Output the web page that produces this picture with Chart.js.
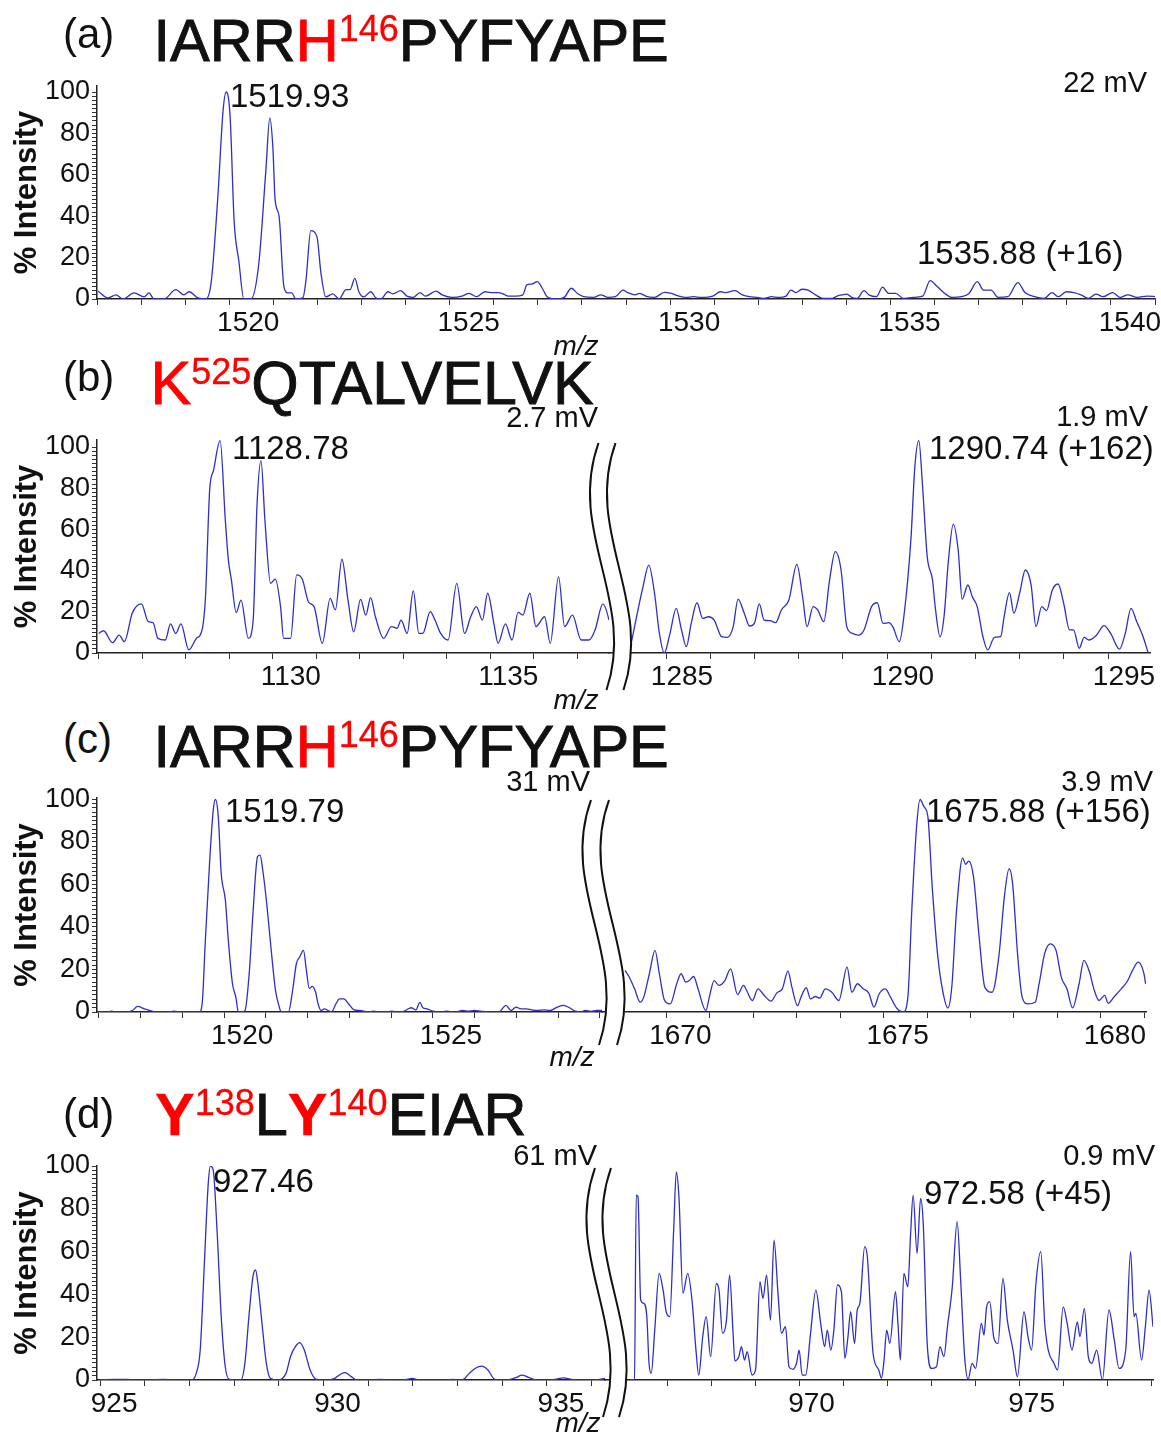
<!DOCTYPE html>
<html><head><meta charset="utf-8">
<script src="https://cdn.jsdelivr.net/npm/chart.js@4.4.0/dist/chart.umd.min.js"></script>
<style>
html,body{margin:0;padding:0;background:#fff;}
#page{position:relative;width:1161px;height:1437px;overflow:hidden;font-family:'Liberation Sans',Arial,sans-serif;color:#111;background:#fff;}
canvas{position:absolute;}
.t{position:absolute;white-space:nowrap;line-height:1;}
.ttl{-webkit-text-stroke:0.9px currentColor;}
.red{color:#f00;}
.sup{font-size:36px;position:relative;top:-20px;-webkit-text-stroke:0.3px currentColor;}
.bold{font-weight:bold;-webkit-text-stroke:0.3px currentColor;}
</style></head><body><div id="page"></div>
<script>
// ---------------- DATA (m/z, % intensity) ----------------
const spectrumA = [[1517.02,3.9],[1517.25,0.5],[1517.43,2],[1517.59,0],[1517.84,3],[1518.07,1],[1518.18,3],[1518.29,0],[1518.52,0],[1518.79,4.5],[1518.97,2],[1519.09,3.5],[1519.29,0.5],[1519.47,0],[1519.59,8],[1519.74,49],[1519.86,91],[1519.93,100],[1520.02,88],[1520.11,38],[1520.22,18],[1520.33,0],[1520.49,0],[1520.67,17],[1520.83,62],[1520.92,87.5],[1520.99,73],[1521.04,48],[1521.13,40],[1521.24,6],[1521.33,3],[1521.42,3],[1521.51,0],[1521.67,0.5],[1521.74,9],[1521.85,33],[1521.99,30],[1522.08,12.5],[1522.19,1],[1522.35,2.5],[1522.49,0],[1522.65,4.5],[1522.74,4.5],[1522.85,10],[1522.94,3.5],[1523.05,1],[1523.21,3.5],[1523.33,0.5],[1523.44,0],[1523.60,3.5],[1523.71,2.5],
[1523.89,4.0],[1524.03,1.4],[1524.17,0.8],[1524.33,3.1],[1524.45,1.4],[1524.69,3.8],[1524.83,2.0],[1525.05,0.8],[1525.28,1.4],[1525.44,2.7],[1525.61,1.1],[1525.80,3.5],[1525.94,3.1],[1526.11,3.1],[1526.22,2.4],[1526.33,1.4],[1526.49,1.4],[1526.66,2.0],[1526.75,6.8],[1526.86,7.2],[1526.99,8.4],[1527.10,5.2],[1527.21,1.1],[1527.41,0],[1527.60,0.8],[1527.76,5.2],[1527.90,2.7],[1528.04,1.1],[1528.26,0.8],[1528.43,2.0],[1528.59,0.8],[1528.76,1.1],[1528.93,4.3],[1529.04,3.1],[1529.20,2.0],[1529.31,2.7],[1529.48,1.1],[1529.65,0.8],[1529.87,3.2],[1530.03,2.7],[1530.20,1.4],[1530.36,0.8],[1530.53,1.1],[1530.70,0.8],[1530.97,1.4],[1531.14,3.5],[1531.25,3.1],[1531.47,4.0],[1531.64,2.0],[1531.80,1.1],[1531.97,0.8],[1532.13,0.3],[1532.30,1.1],[1532.47,0.8],[1532.63,1.4],[1532.74,4.3],[1532.85,3.1],[1532.99,4.7],[1533.13,4.3],[1533.30,2.0],[1533.46,0.3],[1533.68,0.3],[1533.79,1.4],[1533.90,2.0],[1534.01,2.4],[1534.12,0.8],[1534.24,0.3],[1534.40,4.0],[1534.51,2.0],[1534.68,1.1],[1534.82,5.7],[1534.96,2.7],[1535.12,2.7],[1535.29,0.3],[1535.51,0.8],[1535.73,1.4],[1535.90,8.9],[1536.06,6.0],[1536.23,2.7],[1536.39,0.8],[1536.61,1.1],[1536.78,2.7],[1536.97,8.4],[1537.11,4.3],[1537.28,4.3],[1537.44,0.8],[1537.66,1.1],[1537.89,7.9],[1538.05,3.1],[1538.27,1.1],[1538.49,0.3],[1538.66,3.1],[1538.81,1.1],[1538.99,3.5],[1539.16,3.1],[1539.32,2.0],[1539.49,0.3],[1539.66,2.4],[1539.82,1.1],[1540.04,3.1],[1540.21,0.8],[1540.38,2.0],[1540.60,0.8],[1540.82,1.4],[1541.04,1.1]];

const spectrumBLeft = [[1126.00,9.5],[1126.11,10.8],[1126.32,5.0],[1126.47,8.7],[1126.59,5.5],[1126.77,19.3],[1126.98,23.8],[1127.14,15.2],[1127.25,14.7],[1127.36,7.1],[1127.53,6.3],[1127.65,14.1],[1127.77,9.5],[1127.89,14.1],[1128.07,1.5],[1128.27,7.6],[1128.32,8.2],[1128.45,25.7],[1128.55,79.1],[1128.64,88.8],[1128.79,103.1],[1128.91,64.6],[1128.98,45.1],[1129.05,35.4],[1129.16,19.6],[1129.27,25.7],[1129.44,7.1],[1129.55,16.0],[1129.64,72.6],[1129.73,93.4],[1129.82,64.6],[1129.95,33.8],[1130.06,35.9],[1130.18,22.5],[1130.25,7.1],[1130.41,7.1],[1130.55,37.9],[1130.68,35.8],[1130.82,24.9],[1130.95,22.5],[1131.14,4.7],[1131.32,26.5],[1131.44,20.9],[1131.59,45.5],[1131.73,25.7],[1131.86,10.3],[1132.02,26.0],[1132.14,18.4],[1132.25,26.9],[1132.36,17.6],[1132.55,7.1],[1132.73,12.8],[1132.86,12.0],[1132.95,16.0],[1133.09,9.5],[1133.23,30.2],[1133.36,9.5],[1133.45,9.5],[1133.62,20.1],[1133.73,16.0],[1133.86,9.5],[1134.03,6.3],[1134.23,33.8],[1134.41,9.5],[1134.55,17.6],[1134.68,22.5],[1134.82,16.0],[1134.94,29.0],[1135.09,13.6],[1135.18,4.7],[1135.35,14.1],[1135.50,6.3],[1135.64,19.7],[1135.75,18.4],[1135.91,29.0],[1136.05,12.8],[1136.25,17.6],[1136.38,4.7],[1136.57,37.0],[1136.71,12.8],[1136.89,18.4],[1137.09,6.3],[1137.27,6.3],[1137.41,11.2],[1137.59,23.8],[1137.73,16.0],[1137.80,7.9]];

const spectrumBRight = [[1284.22,5.5],[1284.35,19.3],[1284.48,32.2],[1284.61,42.7],[1284.74,29.0],[1284.85,9.5],[1284.96,0],[1285.09,9.5],[1285.23,21.7],[1285.35,11.2],[1285.46,3.1],[1285.57,14.4],[1285.70,24.4],[1285.83,16.8],[1285.96,17.6],[1286.09,16.0],[1286.26,7.9],[1286.39,7.6],[1286.52,12.8],[1286.63,26.2],[1286.77,19.3],[1286.89,13.1],[1287.00,14.4],[1287.11,23.8],[1287.22,16.0],[1287.35,15.7],[1287.48,14.7],[1287.61,20.9],[1287.78,25.7],[1287.96,43.0],[1288.09,27.3],[1288.19,12.8],[1288.33,22.5],[1288.43,20.9],[1288.57,15.2],[1288.70,35.4],[1288.83,49.2],[1288.96,40.3],[1289.09,12.8],[1289.22,9.5],[1289.35,8.7],[1289.48,11.2],[1289.65,22.5],[1289.78,24.4],[1289.91,14.4],[1290.04,14.7],[1290.13,12.8],[1290.28,5.5],[1290.39,19.3],[1290.54,54.9],[1290.63,90.5],[1290.72,103.1],[1290.80,82.4],[1290.91,46.8],[1291.03,35.4],[1291.09,22.5],[1291.20,7.9],[1291.29,17.6],[1291.39,45.1],[1291.50,62.6],[1291.61,50.0],[1291.70,26.1],[1291.83,33.0],[1291.93,27.3],[1292.04,22.5],[1292.17,7.9],[1292.28,1.5],[1292.43,7.6],[1292.57,7.9],[1292.65,17.6],[1292.77,29.3],[1292.87,19.3],[1293.00,29.0],[1293.13,40.3],[1293.26,33.0],[1293.37,12.8],[1293.50,22.5],[1293.61,20.6],[1293.74,30.6],[1293.87,33.5],[1294.00,23.8],[1294.13,11.2],[1294.22,11.2],[1294.35,2.3],[1294.46,7.6],[1294.57,6.3],[1294.74,8.7],[1294.91,13.3],[1295.06,9.5],[1295.26,1.9],[1295.39,9.5],[1295.52,21.7],[1295.65,15.2],[1295.78,8.7],[1295.91,0]];

const spectrumCLeft = [[1516.90,0.4],[1517.05,0],[1517.19,0],[1517.30,0.4],[1517.42,0],[1517.66,0],[1517.80,0.7],[1517.93,2.6],[1518.09,1.5],[1518.23,0.7],[1518.37,0],[1518.56,0],[1518.66,0],[1518.80,0.4],[1518.94,0],[1519.18,0],[1519.41,0],[1519.48,5.4],[1519.55,33.7],[1519.65,69.9],[1519.74,95.1],[1519.79,100],[1519.86,91.9],[1519.93,65.2],[1520.03,52.6],[1520.10,33.7],[1520.20,13.3],[1520.28,7.0],[1520.34,0],[1520.43,0],[1520.50,0.7],[1520.60,18.0],[1520.69,46.3],[1520.80,73.1],[1520.86,73.8],[1520.93,66.0],[1521.02,51.0],[1521.12,30.6],[1521.23,10.2],[1521.31,3.1],[1521.37,0],[1521.54,0],[1521.64,10.2],[1521.73,22.7],[1521.81,25.9],[1521.90,29.0],[1521.97,19.6],[1522.04,11.0],[1522.11,12.1],[1522.19,9.4],[1522.25,3.9],[1522.32,0.7],[1522.40,1.5],[1522.49,0.7],[1522.57,0],[1522.68,3.9],[1522.76,6.2],[1522.87,6.2],[1522.98,3.9],[1523.11,1.0],[1523.25,0.7],[1523.44,0],[1523.58,0.4],[1523.72,0],[1523.86,0],[1524.01,0.4],[1524.15,0],[1524.24,0],[1524.34,0.7],[1524.48,2.0],[1524.59,1.0],[1524.69,4.5],[1524.76,2.0],[1524.86,1.5],[1525.00,0.4],[1525.14,0],[1525.33,0.4],[1525.52,0],[1525.71,0.7],[1525.85,0.4],[1525.99,0.7],[1526.14,0.4],[1526.37,0],[1526.58,0],[1526.75,3.1],[1526.87,0.7],[1526.99,2.3],[1527.11,1.5],[1527.23,1.5],[1527.37,1.0],[1527.51,0.7],[1527.65,1.0],[1527.81,0.7],[1527.98,2.3],[1528.13,3.1],[1528.27,2.0],[1528.41,0.4],[1528.55,0],[1528.64,0.7],[1528.79,0.3],[1528.93,0.7],[1529.07,0.7]];

const spectrumCRight = [[1669.05,19.6],[1669.14,16.7],[1669.27,10.9],[1669.40,4.6],[1669.48,7.0],[1669.61,18.0],[1669.74,29.0],[1669.84,18.0],[1669.96,5.4],[1670.09,3.8],[1670.24,13.3],[1670.34,18.0],[1670.45,14.1],[1670.53,14.8],[1670.63,16.7],[1670.73,10.9],[1670.91,0.7],[1670.99,7.0],[1671.10,14.8],[1671.21,12.5],[1671.34,14.5],[1671.48,20.3],[1671.64,8.2],[1671.78,12.5],[1671.85,10.1],[1671.98,5.4],[1672.11,10.9],[1672.24,8.1],[1672.41,5.1],[1672.54,8.9],[1672.67,10.9],[1672.80,19.2],[1672.89,11.7],[1673.02,3.0],[1673.10,7.0],[1673.22,11.4],[1673.32,6.2],[1673.43,7.3],[1673.53,6.5],[1673.66,10.9],[1673.81,9.3],[1673.97,5.4],[1674.16,21.1],[1674.27,9.3],[1674.40,13.3],[1674.53,10.9],[1674.66,8.9],[1674.78,2.3],[1674.90,8.6],[1675.04,10.9],[1675.16,7.0],[1675.30,1.9],[1675.45,0],[1675.56,7.0],[1675.65,47.9],[1675.76,87.2],[1675.84,100],[1675.93,96.6],[1676.02,91.9],[1676.12,58.9],[1676.25,25.8],[1676.36,10.1],[1676.48,1.9],[1676.57,11.7],[1676.68,47.9],[1676.82,72.5],[1676.89,69.5],[1676.96,71.0],[1677.07,63.6],[1677.20,35.3],[1677.33,11.7],[1677.50,9.3],[1677.66,27.4],[1677.78,54.2],[1677.89,67.5],[1677.97,60.4],[1678.09,25.8],[1678.19,7.0],[1678.32,3.8],[1678.49,4.6],[1678.58,13.3],[1678.71,27.7],[1678.84,32.1],[1678.97,29.0],[1679.09,16.4],[1679.22,10.9],[1679.35,1.9],[1679.50,13.3],[1679.61,24.3],[1679.74,18.8],[1679.84,10.9],[1679.96,5.4],[1680.09,7.8],[1680.17,4.1],[1680.30,7.0],[1680.47,10.9],[1680.60,14.1],[1680.73,19.6],[1680.86,23.5],[1680.99,18.3],[1681.03,13.3]];

const spectrumDLeft = [[925.00,0],[925.32,0.3],[925.59,0.3],[925.78,0],[926.05,0],[926.42,0.3],[926.69,0],[927.05,0],[927.15,3.1],[927.24,14.0],[927.33,53.0],[927.42,91.9],[927.47,100],[927.53,98.2],[927.62,68.6],[927.71,29.6],[927.80,6.3],[927.89,0.3],[928.15,0],[928.24,7.8],[928.33,29.6],[928.42,48.3],[928.48,51.4],[928.53,45.2],[928.63,25.0],[928.72,7.8],[928.81,0.8],[928.97,0],[929.16,3.1],[929.26,10.9],[929.38,15.9],[929.47,17.5],[929.57,14.0],[929.70,4.7],[929.84,0.3],[930.07,0],[930.25,0.8],[930.39,2.8],[930.48,3.4],[930.62,1.6],[930.75,0],[930.98,0],[931.26,0.3],[931.53,0],[931.80,0],[931.99,0.8],[932.12,0],[932.26,0],[932.44,0],[932.72,0],[932.90,0.3],[932.99,0],[933.13,0.3],[933.26,3.1],[933.40,5.5],[933.54,6.5],[933.68,4.7],[933.83,0.3],[934.00,0],[934.18,0.3],[934.32,1.2],[934.44,2.3],[934.59,1.2],[934.77,0],[935.00,0],[935.18,0.3],[935.37,1.0],[935.55,0.3],[935.73,0],[936.00,0],[936.28,0.6],[936.37,1.2]];

const spectrumDRight = [[966.16,0],[966.25,0.3],[966.29,86.4],[966.33,85.6],[966.39,37.4],[966.46,35.8],[966.53,29.6],[966.58,7.8],[966.63,3.1],[966.71,23.3],[966.81,49.8],[966.90,42.0],[966.97,31.9],[967.05,29.6],[967.14,70.1],[967.20,97.3],[967.26,85.6],[967.35,40.5],[967.46,49.8],[967.56,36.6],[967.64,15.6],[967.71,2.3],[967.80,20.2],[967.88,29.6],[967.98,10.9],[968.11,45.1],[968.17,42.0],[968.25,21.8],[968.34,28.0],[968.41,49.0],[968.49,21.8],[968.53,9.0],[968.62,10.9],[968.68,15.6],[968.75,9.3],[968.81,13.2],[968.92,2.3],[969.00,4.7],[969.10,45.9],[969.17,38.1],[969.25,49.0],[969.34,28.0],[969.42,65.4],[969.51,40.5],[969.59,21.8],[969.68,24.9],[969.76,6.2],[969.85,5.0],[969.93,7.8],[969.99,14.0],[970.06,2.3],[970.14,2.3],[970.25,21.8],[970.37,42.0],[970.48,26.5],[970.57,15.6],[970.63,23.3],[970.71,14.0],[970.78,23.3],[970.86,44.4],[970.95,41.3],[971.03,10.1],[971.10,20.2],[971.16,31.9],[971.25,17.1],[971.31,32.7],[971.37,35.8],[971.48,62.3],[971.54,57.6],[971.67,12.5],[971.80,4.7],[971.86,0.8],[971.92,9.3],[971.98,23.3],[972.05,17.1],[972.18,41.3],[972.24,24.9],[972.29,9.3],[972.37,49.8],[972.46,43.6],[972.52,67.0],[972.58,86.4],[972.67,59.2],[972.75,84.9],[972.81,73.2],[972.90,17.1],[973.00,5.4],[973.11,6.2],[973.19,15.6],[973.28,10.9],[973.36,24.9],[973.47,43.6],[973.58,74.0],[973.66,46.7],[973.75,10.9],[973.83,0.3],[973.92,7.8],[974.00,5.4],[974.13,26.5],[974.19,21.0],[974.25,34.2],[974.32,36.6],[974.41,20.2],[974.51,17.1],[974.62,47.5],[974.72,28.0],[974.85,14.0],[974.95,1.5],[975.10,31.9],[975.19,20.2],[975.27,14.0],[975.37,45.1],[975.48,60.0],[975.57,26.5],[975.65,14.0],[975.78,7.8],[975.86,4.7],[975.99,34.2],[976.08,26.5],[976.19,14.0],[976.31,27.2],[976.37,20.2],[976.47,33.5],[976.56,10.9],[976.64,7.8],[976.75,14.0],[976.88,0],[977.03,32.7],[977.15,18.7],[977.26,5.4],[977.41,14.0],[977.52,60.0],[977.60,29.6],[977.64,31.1],[977.77,9.3],[977.86,25.7],[977.94,42.0],[978.03,24.9]];

// labelled x ticks (m/z) and y ticks (% intensity)
const xMajorA = [1520,1525,1530,1535,1540];
const xMajorBLeft = [1130,1135];
const xMajorBRight = [1285,1290,1295];
const xMajorCLeft = [1520,1525];
const xMajorCRight = [1670,1675,1680];
const xMajorDLeft = [925,930,935];
const xMajorDRight = [970,975];
const yMajor = [0,20,40,60,80,100];

// ---------------- RENDERING ----------------
Chart.defaults.font.family = "'Liberation Sans', Arial, sans-serif";
Chart.defaults.color = '#111';
const page = document.getElementById('page');
const LINE = '#2f2fc6';

function stepTicks(min, max, step) {
  const out = [];
  for (let v = Math.ceil(min / step) * step; v <= max + 1e-9; v += step) out.push({value: Math.round(v * 1000) / 1000});
  return out;
}

const breakPlugin = {
  id: 'brk',
  afterDraw(chart, args, o) {
    if (!o || !o.on) return;
    const ctx = chart.ctx;
    const cx = chart.chartArea.left;
    const y0 = o.top - o.cTop, y1 = o.bottom - o.cTop, h = y1 - y0;
    const half = o.gap / 2;
    const pts = bx => [bx - 2, y0, bx - 34, y0 + h * 0.36, bx + 36, y0 + h * 0.64, bx + 6, y1];
    const L = pts(cx - half), R = pts(cx + half);
    ctx.save();
    ctx.beginPath();
    ctx.moveTo(L[0], L[1]);
    ctx.bezierCurveTo(L[2], L[3], L[4], L[5], L[6], L[7]);
    ctx.lineTo(R[6], R[7]);
    ctx.bezierCurveTo(R[4], R[5], R[2], R[3], R[0], R[1]);
    ctx.closePath();
    ctx.fillStyle = '#fff';
    ctx.fill();
    ctx.strokeStyle = '#111';
    ctx.lineWidth = 2;
    [L, R].forEach(P => {
      ctx.beginPath();
      ctx.moveTo(P[0], P[1]);
      ctx.bezierCurveTo(P[2], P[3], P[4], P[5], P[6], P[7]);
      ctx.stroke();
    });
    ctx.restore();
  }
};

function makeSegment(c) {
  const padT = 30, padR = 24, xAxisH = 60;
  const padL = c.showY ? 0 : 40;
  const cLeft = c.showY ? 0 : c.areaL - padL;
  const cTop = c.areaT - padT;
  const w = c.areaR + padR - cLeft;
  const h = padT + (c.areaB - c.areaT) + xAxisH;
  const canvas = document.createElement('canvas');
  canvas.width = w; canvas.height = h;
  canvas.style.left = cLeft + 'px'; canvas.style.top = cTop + 'px';
  canvas.style.width = w + 'px'; canvas.style.height = h + 'px';
  page.appendChild(canvas);
  new Chart(canvas, {
    type: 'line',
    data: {datasets: [{
      data: c.data.map(p => ({x: p[0], y: p[1]})),
      borderColor: LINE, borderWidth: 1.3, pointRadius: 0,
      cubicInterpolationMode: 'monotone', fill: false
    }]},
    options: {
      responsive: false, maintainAspectRatio: false, animation: false, devicePixelRatio: 1,
      layout: {padding: {top: padT, right: padR, left: padL, bottom: 0}},
      plugins: {
        legend: {display: false}, tooltip: {enabled: false},
        brk: c.brk ? {on: true, top: c.brk.top, bottom: c.brk.bottom, gap: c.brk.gap, cTop: cTop} : {on: false}
      },
      scales: {
        x: {
          type: 'linear', min: c.xMin, max: c.xMax,
          afterBuildTicks: s => { s.ticks = stepTicks(c.xMin, c.xMax, 1); },
          afterFit: s => { s.height = xAxisH; },
          grid: {drawOnChartArea: false, drawTicks: true, tickLength: 6, tickColor: '#333', tickWidth: 1},
          border: {display: true, color: '#222', width: 1.5},
          ticks: {autoSkip: false, maxRotation: 0, minRotation: 0, labelOffset: c.labelOffset, padding: 1,
                  font: {size: 28}, color: '#111',
                  callback: v => c.majors.includes(v) ? String(v) : ''}
        },
        y: {
          type: 'linear', min: 0, max: c.yMax, display: c.showY,
          afterBuildTicks: s => { s.ticks = stepTicks(0, 100, 2); },
          afterFit: s => { if (c.showY) s.width = c.areaL; },
          grid: {drawOnChartArea: false, drawTicks: true, tickLength: 5, tickColor: '#333', tickWidth: 1},
          border: {display: true, color: '#222', width: 1.5},
          ticks: {autoSkip: false, padding: 2, font: {size: 27}, color: '#111',
                  callback: v => yMajor.includes(v) ? String(v) : ''},
          title: {display: true, text: '% Intensity', color: '#111',
                  font: {size: 31, weight: 'bold'}, padding: {top: 9, bottom: 0}}
        }
      }
    },
    plugins: [breakPlugin]
  });
}

// panel (a)
makeSegment({data: spectrumA, xMin: 1517, xMax: 1541, yMax: 102.9, areaL: 97, areaR: 1155, areaT: 86, areaB: 299, showY: true, labelOffset: 19, majors: xMajorA});
// panel (b)
makeSegment({data: spectrumBLeft, xMin: 1125.96, xMax: 1137.73, yMax: 103.4, areaL: 97, areaR: 609, areaT: 440, areaB: 653, showY: true, labelOffset: 18, majors: xMajorBLeft});
makeSegment({data: spectrumBRight, xMin: 1283.71, xMax: 1295.95, yMax: 103.4, areaL: 609, areaR: 1150, areaT: 440, areaB: 653, showY: false, labelOffset: 16, majors: xMajorBRight, brk: {top: 443, bottom: 690, gap: 17}});
// panel (c)
makeSegment({data: spectrumCLeft, xMin: 1516.955, xMax: 1529.05, yMax: 100.7, areaL: 97, areaR: 602, areaT: 798, areaB: 1012, showY: true, labelOffset: 18, majors: xMajorCLeft});
makeSegment({data: spectrumCRight, xMin: 1668.52, xMax: 1681.04, yMax: 100.7, areaL: 602, areaR: 1146, areaT: 798, areaB: 1012, showY: false, labelOffset: 14, majors: xMajorCRight, brk: {top: 800, bottom: 1045, gap: 18}});
// panel (d)
makeSegment({data: spectrumDLeft, xMin: 924.93, xMax: 936.30, yMax: 100, areaL: 97, areaR: 605, areaT: 1166, areaB: 1380, showY: true, labelOffset: 14, majors: xMajorDLeft});
makeSegment({data: spectrumDRight, xMin: 965.58, xMax: 978.03, yMax: 100, areaL: 605, areaR: 1153, areaT: 1166, areaB: 1380, showY: false, labelOffset: 12, majors: xMajorDRight, brk: {top: 1168, bottom: 1417, gap: 16}});

// ---------------- TEXT ----------------
function addText(html, x, cy, size, align, extra) {
  const d = document.createElement('div');
  d.className = 't';
  d.innerHTML = html;
  d.style.fontSize = size + 'px';
  d.style.top = (cy - 0.49 * size) + 'px';
  if (align === 'right') d.style.right = (1161 - x) + 'px';
  else if (align === 'center') { d.style.left = x + 'px'; d.style.transform = 'translateX(-50%)'; }
  else d.style.left = x + 'px';
  if (extra) Object.assign(d.style, extra);
  page.appendChild(d);
}
function addTitle(html, x, baseline, size) {
  const d = document.createElement('div');
  d.className = 't ttl';
  d.innerHTML = html;
  d.style.fontSize = size + 'px';
  d.style.left = x + 'px';
  d.style.top = (baseline - 0.8465 * size) + 'px';
  page.appendChild(d);
}
function addPanelLabel(s, cy) {
  const size = 42;
  const d = document.createElement('div');
  d.className = 't';
  d.textContent = s;
  d.style.fontSize = size + 'px';
  d.style.left = '63px';
  d.style.top = (cy - 0.587 * size) + 'px';
  page.appendChild(d);
}

addPanelLabel('(a)', 37.5);
addTitle('IARR<span class="red">H</span><span class="red sup">146</span>PYFYAPE', 153.5, 61.7, 59.5);
addPanelLabel('(b)', 381);
addTitle('<span class="red">K</span><span class="red sup">525</span>QTALVELVK', 150.5, 405, 61);
addPanelLabel('(c)', 743);
addTitle('IARR<span class="red">H</span><span class="red sup">146</span>PYFYAPE', 153.5, 767, 59.5);
addPanelLabel('(d)', 1117.5);
addTitle('<span class="red bold">Y</span><span class="red sup">138</span>L<span class="red bold">Y</span><span class="red sup">140</span>EIAR', 155, 1135, 59.5);

// mV labels
addText('22 mV', 1147, 82, 29, 'right');
addText('2.7 mV', 598, 417, 29, 'right');
addText('1.9 mV', 1148, 416, 29, 'right');
addText('31 mV', 590, 781, 29, 'right');
addText('3.9 mV', 1153, 781, 29, 'right');
addText('61 mV', 597, 1155, 29, 'right');
addText('0.9 mV', 1155, 1155, 29, 'right');

// peak labels
addText('1519.93', 230, 95, 33, 'left');
addText('1535.88 (+16)', 917, 252, 33, 'left');
addText('1128.78', 232, 447, 33, 'left');
addText('1290.74 (+162)', 929, 447, 33, 'left');
addText('1519.79', 225, 810, 33, 'left');
addText('1675.88 (+156)', 926, 810, 33, 'left');
addText('927.46', 213, 1180, 33, 'left');
addText('972.58 (+45)', 924, 1192, 33, 'left');

// axis titles m/z
[[576, 347], [576, 701], [572, 1058], [578, 1424]].forEach(p => addText('m/z', p[0], p[1] - 1, 28, 'center', {fontStyle: 'italic'}));
</script>
</body></html>
